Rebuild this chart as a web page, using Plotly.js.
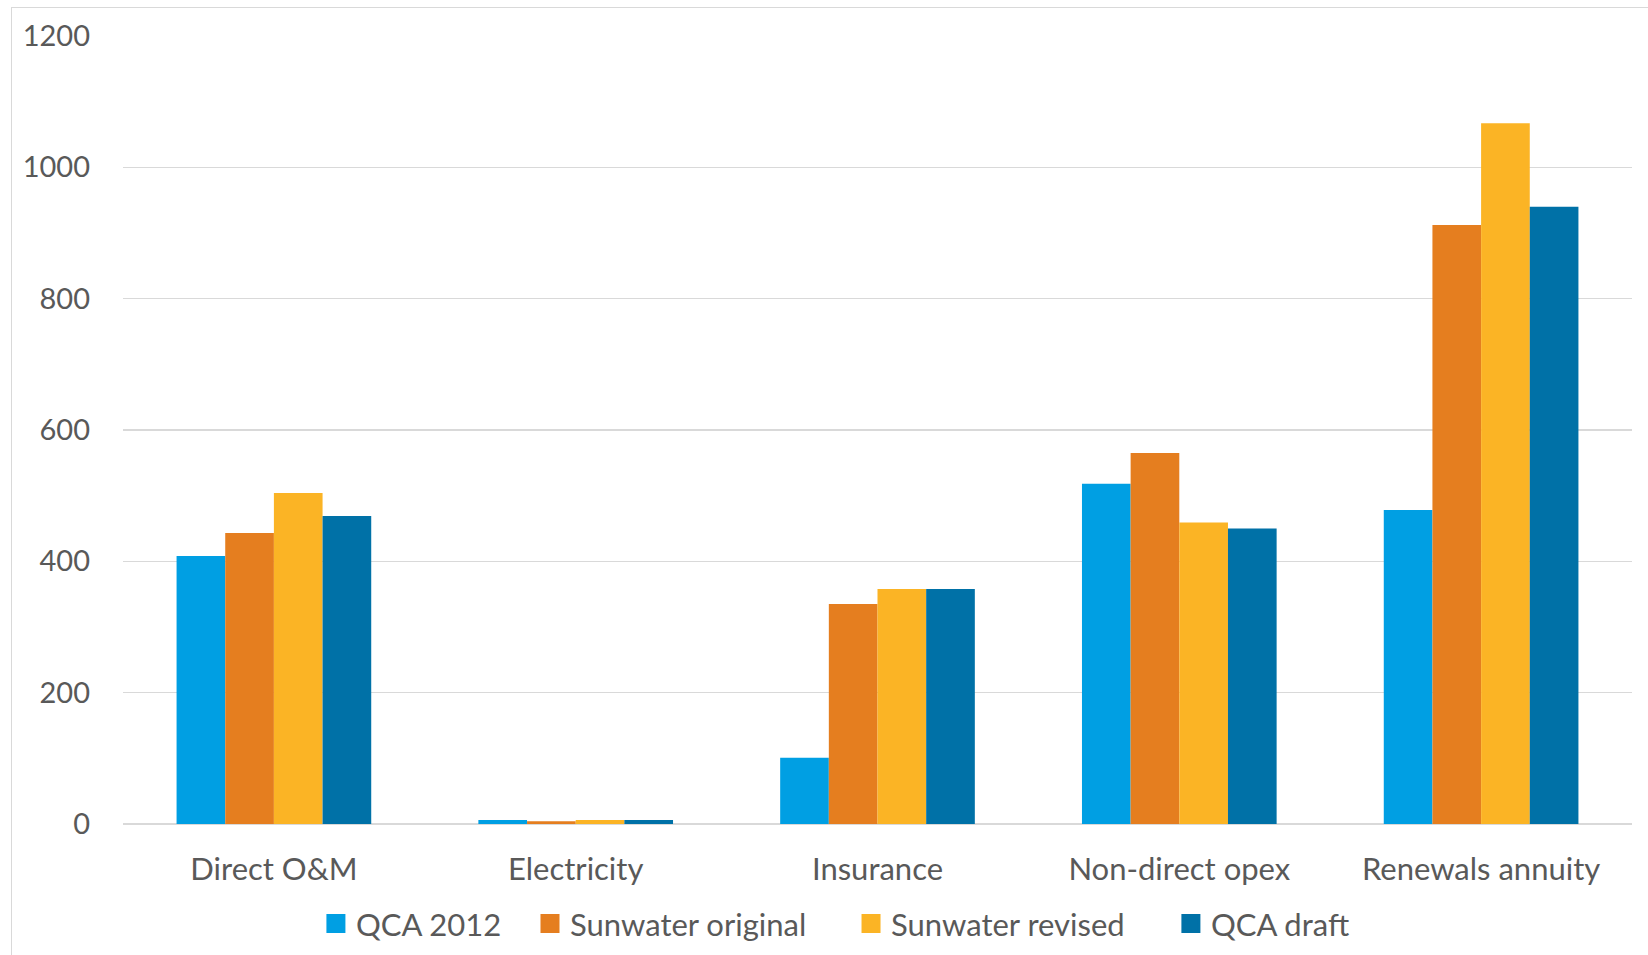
<!DOCTYPE html>
<html>
<head>
<meta charset="utf-8">
<script src="https://cdn.plot.ly/plotly-3.0.1.min.js"></script>
<style>
  html, body { margin: 0; padding: 0; background: #ffffff; }
  #frame { position: absolute; left: 11px; top: 7px; width: 1700px; height: 1000px; border: 1.5px solid #d9d9d9; box-sizing: border-box; }
  #chart { position: absolute; left: 0; top: 0; width: 1648px; height: 955px; }
</style>
</head>
<body>
<div id="frame"></div>
<div id="chart"></div>
<script>
const categories = ["Direct O&M", "Electricity", "Insurance", "Non-direct opex", "Renewals annuity"];
const seriesNames = ["QCA 2012", "Sunwater original", "Sunwater revised", "QCA draft"];
const qca2012 = [408, 6, 101, 518, 478];
const sunwaterOriginal = [443, 4, 335, 565, 912];
const sunwaterRevised = [504, 6, 358, 459, 1067];
const qcaDraft = [469, 6, 358, 450, 940];
const colors = ["#009FE3", "#E57E1F", "#FBB425", "#0071A7"];
const yTicks = [0, 200, 400, 600, 800, 1000, 1200];

const seriesValues = [qca2012, sunwaterOriginal, sunwaterRevised, qcaDraft];
const textColor = "#595959";
const fontFamily = "Lato, 'Open Sans', sans-serif";
const legendIds = ["legend", "legend2", "legend3", "legend4"];
const legendX = [0.1917, 0.3216, 0.5164, 0.7105];

const traces = [];
seriesValues.forEach((vals, i) => {
  traces.push({
    type: "bar", x: categories, y: vals, name: seriesNames[i],
    marker: { color: colors[i], line: { width: 0 } },
    showlegend: false, hoverinfo: "x+y+name"
  });
});
// legend proxies (larger square symbols), one legend per entry
seriesNames.forEach((n, i) => {
  traces.push({
    type: "scatter", mode: "markers", x: [null], y: [null], name: n,
    marker: { symbol: "square", size: 16, color: colors[i], line: { color: colors[i], width: 3 } },
    showlegend: true, hoverinfo: "skip", legend: legendIds[i]
  });
});

const layout = {
  width: 1648, height: 955,
  paper_bgcolor: "rgba(0,0,0,0)", plot_bgcolor: "rgba(0,0,0,0)",
  margin: { l: 123, r: 16, t: 36, b: 131, pad: 0, autoexpand: false },
  barmode: "group", bargap: 0.355, bargroupgap: 0,
  font: { family: fontFamily, color: textColor, size: 29 },
  xaxis: {
    type: "category", showgrid: false, zeroline: false,
    showline: false, ticks: "", ticklabelstandoff: 24,
    tickfont: { family: fontFamily, size: 31, color: textColor }
  },
  yaxis: {
    range: [0, 1200], tickvals: yTicks, ticktext: yTicks.map(String),
    showgrid: true, gridcolor: "#d9d9d9", gridwidth: 1.5,
    zeroline: true, zerolinecolor: "#d9d9d9", zerolinewidth: 1.5,
    showline: false, ticks: "", ticklabelstandoff: 32,
    tickfont: { family: fontFamily, size: 29, color: textColor }
  },
  showlegend: true
};
legendIds.forEach((id, i) => {
  layout[id] = {
    orientation: "h", xref: "container", yref: "container",
    x: legendX[i], xanchor: "left", y: 0.0325, yanchor: "middle",
    font: { family: fontFamily, size: 31, color: textColor },
    bgcolor: "rgba(0,0,0,0)", itemclick: false, itemdoubleclick: false
  };
});

Plotly.newPlot("chart", traces, layout, { displayModeBar: false, staticPlot: true });
</script>
</body>
</html>
